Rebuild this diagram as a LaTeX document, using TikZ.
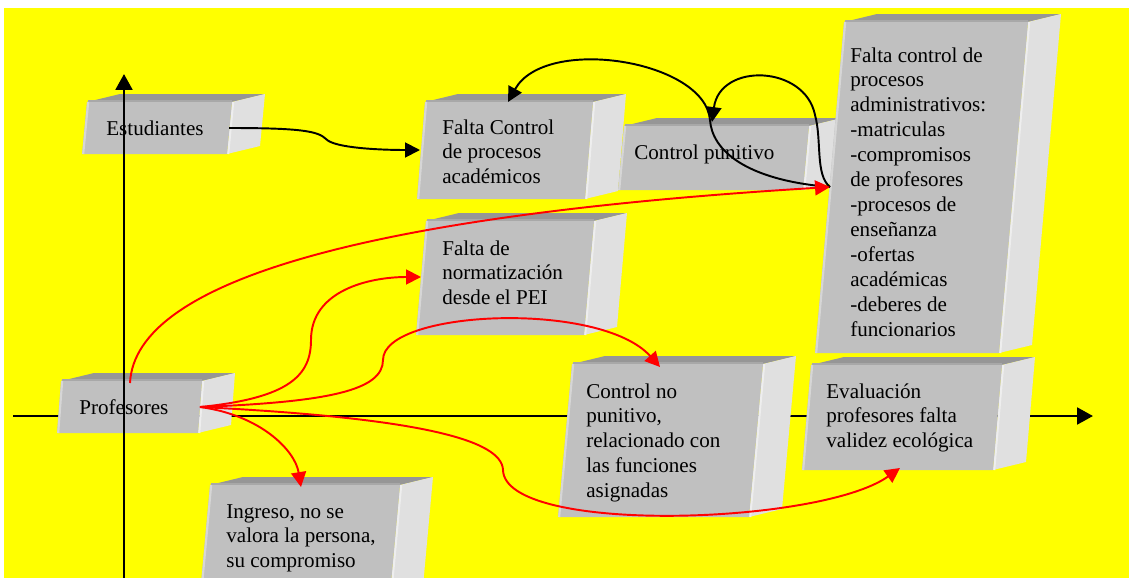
\documentclass[tikz,border=0pt]{standalone}
\usepackage{fontspec}
\setmainfont{Liberation Serif}
\usetikzlibrary{arrows.meta}
\definecolor{bgyellow}{HTML}{FFFF00}
\definecolor{frontgray}{HTML}{C0C0C0}
\definecolor{topgray}{HTML}{969696}
\definecolor{topband}{HTML}{A8A8A8}
\definecolor{sidegray}{HTML}{E0E0E0}
\definecolor{edgelight}{HTML}{D6D6D6}
\definecolor{sidelight}{HTML}{EEEEEE}
\definecolor{linkred}{HTML}{FF0000}
\newcommand\tb[1]{\begin{tabular}[t]{@{}l@{}}#1\end{tabular}}
\newcommand\prismbox[6]{% name, bl x, bl y, width, height, slant
  \coordinate (#1-bl) at (#2,#3);
  \coordinate (#1-br) at (#2+#4,#3);
  \coordinate (#1-tl) at (#2+#6,#3-#5);
  \coordinate (#1-tr) at (#2+#6+#4,#3-#5);
  \fill[topgray] (#1-tl) -- ++(33,-8) -- ([shift={(33,-8)}]#1-tr) -- (#1-tr) -- cycle;
  \fill[sidegray] (#1-tr) -- ++(33,-8) -- ([shift={(33,-8)}]#1-br) -- (#1-br) -- cycle;
  \draw[topband, line width=1.3pt] ([shift={(1,-1.3)}]#1-tl) -- ([shift={(0,-1.3)}]#1-tr);
  \draw[sidelight, line width=1.2pt] ([shift={(1.2,0)}]#1-br) -- ([shift={(1.2,0)}]#1-tr);
  \fill[frontgray] (#1-bl) -- (#1-tl) -- (#1-tr) -- (#1-br) -- cycle;
  \draw[edgelight, line width=1.2pt] ([shift={(1.2,0)}]#1-bl) -- ([shift={(1.2,0)}]#1-tl);
}
\tikzset{
  x=0.02cm, y=-0.02cm,
  txt/.style={anchor=base west, inner sep=0pt, text=black, font=\fontsize{12}{14.2}\selectfont},
  blk/.style={draw=black, line width=1.1pt, -{Triangle[length=8.5pt,width=8.5pt]}},
  redlink/.style={draw=linkred, line width=1.1pt, -{Triangle[length=8.5pt,width=8.5pt]}},
  axis/.style={draw=black, line width=1.5pt, -{Triangle[length=9pt,width=9.5pt]}}
}
\begin{document}
\begin{tikzpicture}
\useasboundingbox (0,0) rectangle (1129,578);
\fill[white] (0,0) rectangle (1129,578);
\fill[bgyellow] (4,8) rectangle (1129,578);

% horizontal axis (behind boxes)
\coordinate (hax-l) at (13,416);
\coordinate (hax-r) at (1093,416);
\draw[axis] (hax-l) -- (hax-r);

% boxes
\prismbox{est}{82}{154}{145}{52}{5}
\prismbox{fca}{417}{199}{168}{97}{8}
\prismbox{cp}{618}{190}{185}{64}{6}
\prismbox{adm}{815}{353}{184}{331}{29}
\prismbox{fn}{416}{335}{168}{114}{10}
\prismbox{prof}{57}{433}{141}{52}{4}
\prismbox{ing}{199}{605}{190}{120}{11}
\prismbox{cnp}{558}{517}{191}{153}{14}
\prismbox{eval}{802}{470}{191}{105}{9}

% texts
\node[txt] (est) at (106,135) {\tb{Estudiantes}};
\node[txt] (fca) at (442,134) {\tb{Falta Control\\de procesos\\académicos}};
\node[txt] (cp) at (634,159) {\tb{Control punitivo}};
\node[txt] (adm) at (850,62) {\tb{Falta control de\\procesos\\administrativos:\\-matriculas\\-compromisos\\de profesores\\-procesos de\\enseñanza\\-ofertas\\académicas\\-deberes de\\funcionarios}};
\node[txt] (fn) at (442,255) {\tb{Falta de\\normatización\\desde el PEI}};
\node[txt] (prof) at (79,414) {\tb{Profesores}};
\node[txt] (ing) at (226,518) {\tb{Ingreso, no se\\valora la persona,\\su compromiso}};
\node[txt] (cnp) at (586,398) {\tb{Control no\\punitivo,\\relacionado con\\las funciones\\asignadas}};
\node[txt] (eval) at (826,398) {\tb{Evaluación\\profesores falta\\validez ecológica}};

% vertical axis (in front of boxes)
\coordinate (vax-b) at (124,578);
\coordinate (vax-t) at (124,74);
\draw[axis] (vax-b) -- (vax-t);

% connector anchor points
\coordinate (est-out) at (229,128);
\coordinate (fca-in) at (420,150);
\coordinate (fca-top) at (508,102);
\coordinate (cp-top) at (712,122);
\coordinate (adm-in) at (830,187);
\coordinate (prof-out) at (200,407);
\coordinate (prof-top) at (130,383);
\coordinate (fn-in) at (421,277);
\coordinate (cnp-top) at (660,367);
\coordinate (eval-bot) at (900,468);
\coordinate (ing-top) at (301,487);

% black connectors
\draw[blk] (est-out) .. controls (300,128) and (318,131) .. (326,139) .. controls (334,148) and (380,150) .. (fca-in);
\draw[blk] (adm-in) .. controls (745,180) and (712,150) .. (710,120) .. controls (705,60) and (545,35) .. (fca-top);
\draw[blk] (adm-in) .. controls (815,175) and (822,140) .. (815,115) .. controls (805,65) and (720,62) .. (cp-top);

% red connectors
\draw[redlink] (prof-out) .. controls (260,415) and (295,450) .. (ing-top);
\draw[redlink] (prof-out) .. controls (290,398) and (311,375) .. (311,340) .. controls (311,290) and (370,277) .. (fn-in);
\draw[redlink] (prof-out) .. controls (330,402) and (383,390) .. (383,360) .. controls (383,310) and (600,300) .. (cnp-top);
\draw[redlink] (prof-top) .. controls (135,280) and (370,215) .. (adm-in);
\draw[redlink] (prof-out) .. controls (420,418) and (502,440) .. (503,470) .. controls (505,535) and (820,525) .. (eval-bot);
\end{tikzpicture}
\end{document}
